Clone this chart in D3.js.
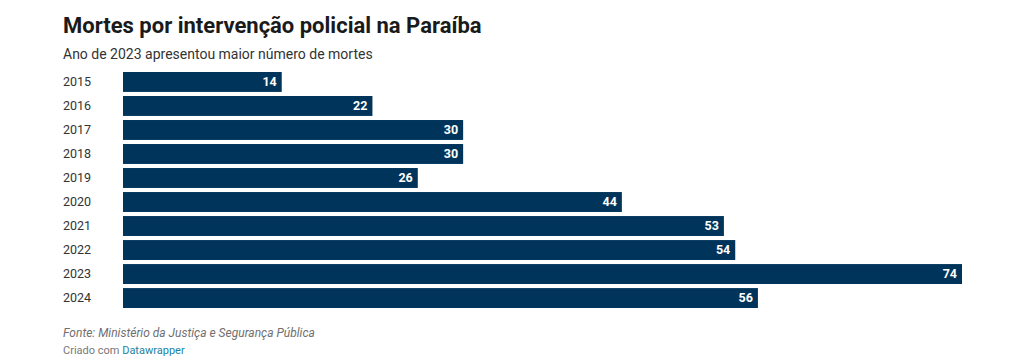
<!DOCTYPE html>
<html>
<head>
<meta charset="utf-8">
<script src="https://cdn.jsdelivr.net/npm/d3@7"></script>
<style>
  body { margin: 0; background: #fff; font-family: Roboto, sans-serif; }
</style>
</head>
<body>
<div id="chart"></div>
<script>
// data
var years = ["2015", "2016", "2017", "2018", "2019", "2020", "2021", "2022", "2023", "2024"];
var deaths = [14, 22, 30, 30, 26, 44, 53, 54, 74, 56];

var width = 1017, height = 363;

var svg = d3.select("#chart").append("svg")
    .attr("width", width)
    .attr("height", height);

svg.append("text")
    .attr("x", 63).attr("y", 33)
    .attr("font-size", 22).attr("font-weight", 700)
    .attr("fill", "#1a1a1a")
    .text("Mortes por intervenção policial na Paraíba");

svg.append("text")
    .attr("x", 63).attr("y", 59)
    .attr("font-size", 14)
    .attr("fill", "#333")
    .text("Ano de 2023 apresentou maior número de mortes");

var x = d3.scaleLinear().domain([0, 74]).range([123, 962]);
var y = d3.scaleBand().domain(years).range([72, 308]).paddingInner(0.17).paddingOuter(0);

var rows = svg.append("g").selectAll("g")
    .data(years.map(function (yr, i) { return {year: yr, value: deaths[i]}; }))
  .enter().append("g");

rows.append("text")
    .attr("x", 63)
    .attr("y", function (d) { return y(d.year) + y.bandwidth() / 2; })
    .attr("dy", "0.35em")
    .attr("font-size", 12.5)
    .attr("fill", "#333")
    .text(function (d) { return d.year; });

rows.append("rect")
    .attr("x", x(0))
    .attr("y", function (d) { return y(d.year); })
    .attr("width", function (d) { return x(d.value) - x(0); })
    .attr("height", y.bandwidth())
    .attr("fill", "#01345a");

rows.append("text")
    .attr("x", function (d) { return x(d.value) - 5; })
    .attr("y", function (d) { return y(d.year) + y.bandwidth() / 2; })
    .attr("dy", "0.35em")
    .attr("text-anchor", "end")
    .attr("font-size", 12.5).attr("font-weight", 700)
    .attr("fill", "#fff")
    .text(function (d) { return d.value; });

svg.append("text")
    .attr("x", 63).attr("y", 337)
    .attr("font-size", 12).attr("font-style", "italic")
    .attr("fill", "#6f6f6f")
    .text("Fonte: Ministério da Justiça e Segurança Pública");

var credit = svg.append("text")
    .attr("x", 63).attr("y", 354)
    .attr("font-size", 11)
    .attr("fill", "#777");
credit.append("tspan").text("Criado com ");
credit.append("tspan").attr("fill", "#1d81a2").text("Datawrapper");
</script>
</body>
</html>
